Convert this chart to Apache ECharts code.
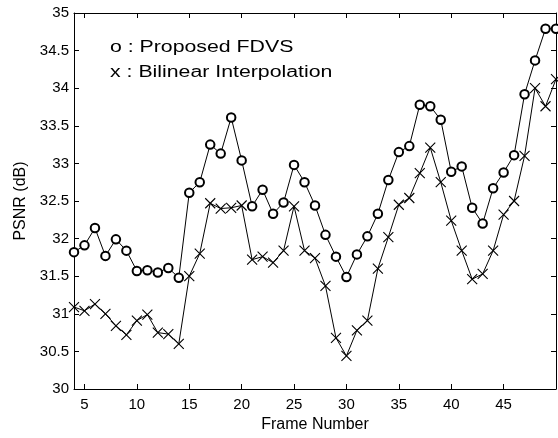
<!DOCTYPE html>
<html><head><meta charset="utf-8">
<script src="https://cdn.jsdelivr.net/npm/echarts@6/dist/echarts.min.js"></script>
<style>html,body{margin:0;padding:0;background:#fff}#c{width:558px;height:438px}</style>
</head><body><div id="c"></div>
<script>
const frames = [4,5,6,7,8,9,10,11,12,13,14,15,16,17,18,19,20,21,22,23,24,25,26,27,28,29,30,31,32,33,34,35,36,37,38,39,40,41,42,43,44,45,46,47,48,49,50];
const fdvs = [31.82,31.91,32.14,31.77,31.99,31.84,31.57,31.58,31.55,31.61,31.48,32.61,32.75,33.25,33.13,33.61,33.04,32.43,32.65,32.33,32.48,32.98,32.75,32.44,32.05,31.76,31.49,31.79,32.03,32.33,32.78,33.15,33.23,33.78,33.76,33.58,32.89,32.96,32.41,32.20,32.67,32.88,33.11,33.92,34.37,34.79,34.79];
const bilinear = [31.09,31.04,31.13,31.00,30.84,30.72,30.91,30.99,30.75,30.73,30.60,31.50,31.80,32.47,32.40,32.41,32.44,31.72,31.76,31.68,31.84,32.43,31.84,31.74,31.37,30.68,30.44,30.78,30.91,31.60,32.02,32.45,32.54,32.87,33.21,32.75,32.24,31.84,31.46,31.53,31.84,32.32,32.50,33.10,34.00,33.76,34.12];
const xTicks = [5,10,15,20,25,30,35,40,45];
const legendLines = ['o : Proposed FDVS', 'x : Bilinear Interpolation'];
const xName = 'Frame Number';
const yName = 'PSNR (dB)';

const FONT = '"Liberation Sans", Arial, Helvetica, sans-serif';
const chart = echarts.init(document.getElementById('c'), null, {renderer:'canvas'});
const axisLine = {show:true, lineStyle:{color:'#000', width:1}};
const tickStyle = {color:'#000', width:1};
chart.setOption({
  animation:false,
  backgroundColor:'#fff',
  grid:{left:74, right:2, top:13, bottom:49, containLabel:false},
  xAxis:[{
    type:'value', min:4, max:50, position:'bottom',
    axisLine:axisLine,
    axisTick:{show:true, inside:true, length:5, customValues:xTicks, lineStyle:tickStyle},
    axisLabel:{show:true, customValues:xTicks, color:'#000', fontSize:15, fontFamily:FONT, margin:8},
    splitLine:{show:false},
    name:xName, nameLocation:'middle', nameGap:27,
    nameTextStyle:{color:'#000', fontSize:16, fontFamily:FONT}
  },{
    type:'value', min:4, max:50, position:'top',
    axisLine:axisLine,
    axisTick:{show:true, inside:true, length:5, customValues:xTicks, lineStyle:tickStyle},
    axisLabel:{show:false}, splitLine:{show:false}
  }],
  yAxis:[{
    type:'value', min:30, max:35, interval:0.5, position:'left',
    axisLine:axisLine,
    axisTick:{show:true, inside:true, length:5, lineStyle:tickStyle},
    axisLabel:{color:'#000', fontSize:15, fontFamily:FONT, margin:5},
    splitLine:{show:false},
    name:yName, nameLocation:'middle', nameGap:44, nameRotate:90,
    nameTextStyle:{color:'#000', fontSize:16, fontFamily:FONT}
  },{
    type:'value', min:30, max:35, interval:0.5, position:'right',
    axisLine:axisLine,
    axisTick:{show:true, inside:true, length:5, lineStyle:tickStyle},
    axisLabel:{show:false}, splitLine:{show:false}
  }],
  graphic:legendLines.map((t,i)=>({
    type:'text', x:110, y:40 + i*25, scaleX:1.33, scaleY:1,
    style:{text:t, font:'16px '+FONT, fill:'#000', textVerticalAlign:'top'}
  })),
  series:[{
    type:'line', name:'FDVS', xAxisIndex:0, yAxisIndex:0,
    data:frames.map((f,i)=>[f, fdvs[i]]),
    symbol:'emptyCircle', symbolSize:8.5,
    lineStyle:{color:'#000', width:1},
    itemStyle:{color:'#000', borderColor:'#000', borderWidth:1},
    clip:false, z:3
  },{
    type:'line', name:'Bilinear', xAxisIndex:0, yAxisIndex:0,
    data:frames.map((f,i)=>[f, bilinear[i]]),
    symbol:'path://M0,0L10,10M10,0L0,10', symbolSize:10,
    lineStyle:{color:'#000', width:1},
    itemStyle:{color:'#000', borderColor:'#000', borderWidth:1.1},
    clip:false, z:2
  }]
});
</script>
</body></html>
